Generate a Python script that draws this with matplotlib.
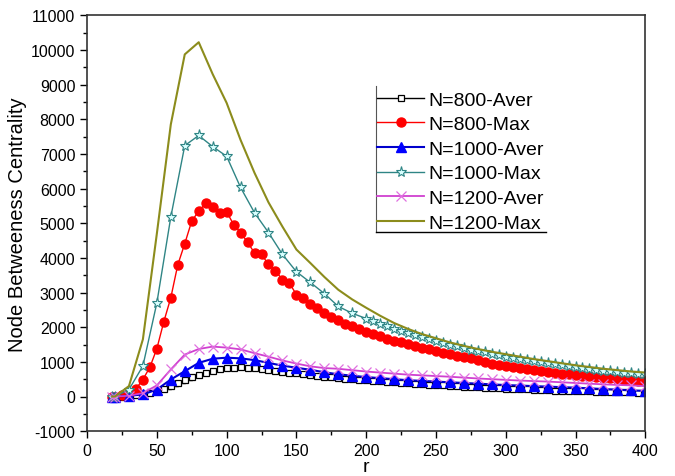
import numpy as np
import matplotlib.pyplot as plt

plt.rcParams['font.family'] = ['Liberation Sans', 'DejaVu Sans']
plt.rcParams['axes.unicode_minus'] = False

# r values for each series
r_step5 = [18] + list(range(20, 401, 5))
r_step10 = [18] + list(range(20, 401, 10))
r_teal = [18, 20, 30, 40, 50, 60, 70, 80, 90, 100, 110, 120, 130, 140, 150, 160, 170, 180, 190] + list(range(200, 401, 5))

# N=800 average (squares)
aver_800 = [0, 0, 0, 10, 30, 60, 100, 150, 220, 300, 390, 480, 560, 630, 690, 740, 780, 810, 830,
            840, 835, 820, 795, 770, 745, 715, 690, 665, 640, 615, 595, 575, 555, 530, 510, 495,
            480, 465, 450, 435, 420, 405, 390, 378, 365, 352, 340, 330, 318, 307, 296, 286, 276,
            266, 257, 248, 238, 228, 219, 210, 202, 194, 186, 179, 173, 167, 161, 155, 150, 145,
            140, 135, 131, 127, 123, 119, 115, 112]

# N=800 max (red dots)
max_800 = [0, 0, 30, 100, 220, 490, 845, 1380, 2160, 2850, 3800, 4410, 5060, 5350, 5570, 5480,
           5280, 5330, 4960, 4730, 4450, 4140, 4100, 3810, 3620, 3375, 3270, 2940, 2850, 2680,
           2550, 2420, 2300, 2200, 2100, 2020, 1940, 1860, 1800, 1740, 1670, 1610, 1560, 1510,
           1460, 1410, 1360, 1310, 1260, 1220, 1180, 1140, 1100, 1040, 990, 950, 910, 880, 850,
           820, 790, 760, 730, 705, 680, 660, 640, 620, 600, 580, 560, 540, 520, 500, 480, 465,
           450, 435]

# N=1000 average (triangles)
aver_1000 = [0, 0, 20, 60, 200, 490, 730, 970, 1090, 1120, 1100, 1050, 970, 890, 830, 770, 700,
             640, 600, 560, 530, 500, 470, 450, 430, 410, 390, 370, 350, 330, 315, 300, 285, 270,
             255, 235, 215, 195, 175, 160]

# N=1000 max (stars)
max_1000 = [0, 0, 200, 880, 2700, 5180, 7240, 7530, 7210, 6930, 6030, 5300, 4730, 4100, 3600,
            3290, 2970, 2600, 2400, 2250, 2170, 2100, 2030, 1960, 1900, 1830, 1770, 1710, 1660,
            1600, 1550, 1500, 1450, 1400, 1350, 1310, 1270, 1230, 1190, 1150, 1115, 1080, 1050,
            1015, 985, 955, 925, 895, 870, 845, 820, 795, 770, 750, 730, 710, 690, 670, 655, 640]

# N=1200 average (crosses)
aver_1200 = [0, 0, 20, 100, 320, 780, 1210, 1370, 1440, 1410, 1360, 1250, 1150, 1040, 950, 870,
             820, 800, 760, 720, 690, 660, 630, 610, 590, 570, 545, 520, 500, 480, 460, 445, 430,
             410, 390, 370, 350, 335, 320, 300]

# N=1200 max (plain line)
max_1200 = [0, 0, 300, 1650, 4700, 7850, 9870, 10220, 9300, 8470, 7400, 6450, 5600, 4900, 4240,
            3850, 3450, 3080, 2800, 2560, 2330, 2120, 1950, 1800, 1680, 1560, 1460, 1370, 1290,
            1220, 1150, 1080, 1020, 960, 900, 850, 800, 760, 720, 690]

fig = plt.figure(figsize=(6.75, 4.77), dpi=100)
ax = fig.add_axes([0.129, 0.094, 0.827, 0.872])

ax.plot(r_step5, aver_800, color='black', lw=1, marker='s', ms=5, mfc='white', mec='black',
        mew=0.9, drawstyle='steps-post', label='N=800-Aver')
ax.plot(r_step5, max_800, color='#ff0000', lw=1, marker='o', ms=6.5, mfc='#ff0000',
        mec='#ff0000', label='N=800-Max')
ax.plot(r_step10, aver_1000, color='#0000cc', lw=1.5, marker='^', ms=7, mfc='#0000ff',
        mec='#0000ff', label='N=1000-Aver')
ax.plot(r_teal, max_1000, color='#2f8585', lw=1, marker='*', ms=8, mfc='#d8ffff',
        mec='#2f8585', mew=0.8, label='N=1000-Max')
ax.plot(r_step10, aver_1200, color='#d040d0', lw=1.3, marker='x', ms=7, mec='#e070e0',
        mew=0.9, label='N=1200-Aver')
ax.plot(r_step10, max_1200, color='#8c8c1c', lw=1.5, label='N=1200-Max')

ax.set_xlim(0, 400)
ax.set_ylim(-1000, 11000)
ax.set_xticks(np.arange(0, 401, 50))
ax.set_xticks(np.arange(0, 401, 25), minor=True)
ax.set_yticks(np.arange(-1000, 11001, 1000))
ax.set_yticks(np.arange(-1000, 11001, 500), minor=True)
ax.tick_params(which='both', direction='out', top=False, right=False, labelsize=11.5)
ax.tick_params(which='major', length=5, width=1)
ax.tick_params(which='minor', length=3, width=1)
for s in ax.spines.values():
    s.set_linewidth(1.2)
    s.set_color('#333333')

ax.set_xlabel('r', fontsize=14, labelpad=0)
ax.set_ylabel('Node Betweeness Centrality', fontsize=14.5, labelpad=3)

leg = ax.legend(loc='upper left', bbox_to_anchor=(0.52, 0.818), frameon=False, fontsize=14,
                handlelength=2.4, handletextpad=0.2, labelspacing=0.36, borderaxespad=0,
                borderpad=0)

# partial legend frame: left and bottom edges only
ax.plot([0.518, 0.518], [0.478, 0.83], color='#555555', lw=0.8, transform=ax.transAxes, clip_on=False)
ax.plot([0.518, 0.822], [0.478, 0.478], color='black', lw=1.0, transform=ax.transAxes, clip_on=False)

fig.savefig('out.png', dpi=100)
